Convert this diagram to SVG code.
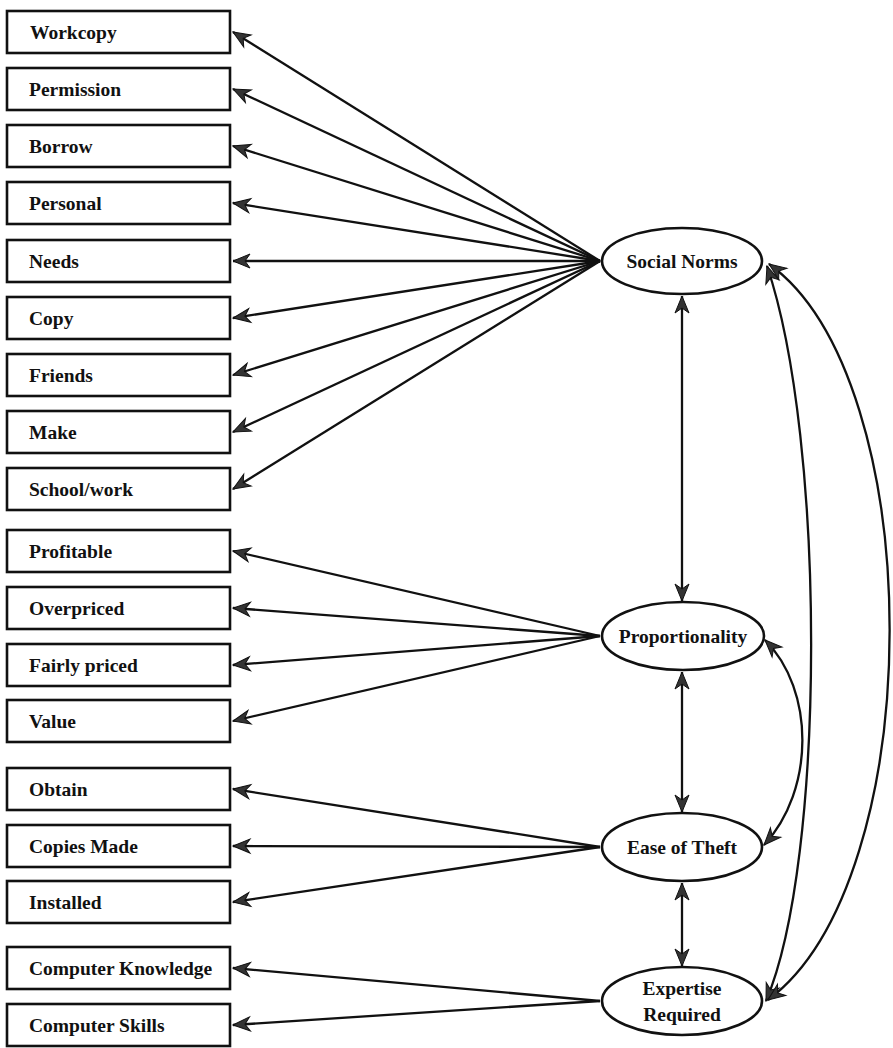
<svg xmlns="http://www.w3.org/2000/svg" width="893" height="1048" viewBox="0 0 893 1048">
<defs>
<style>
.box{fill:#fff;stroke:#111;stroke-width:2.6}
.ell{fill:#fff;stroke:#111;stroke-width:2.6}
.t{font-family:"Liberation Serif","Times New Roman",serif;font-weight:bold;font-size:19.5px;fill:#111}
.tc{text-anchor:middle}
.c{fill:none;stroke:#111;stroke-width:2.3}
.ar{marker-start:url(#ah)}
.bi{marker-start:url(#ah);marker-end:url(#ah)}
</style>
<marker id="ah" markerUnits="userSpaceOnUse" markerWidth="22" markerHeight="18" viewBox="-18 -9 20 18" refX="0" refY="0" orient="auto-start-reverse">
<path d="M0,0 L-17,-7 L-12,0 L-17,7 Z" fill="#333" stroke="#111" stroke-width="1"/>
</marker>
</defs>
<rect x="0" y="0" width="893" height="1048" fill="#fff"/>
<g id="connectors">
<line class="c ar" x1="233" y1="32" x2="600" y2="261"/>
<line class="c ar" x1="233" y1="89" x2="600" y2="261"/>
<line class="c ar" x1="233" y1="146" x2="600" y2="261"/>
<line class="c ar" x1="233" y1="203" x2="600" y2="261"/>
<line class="c ar" x1="233" y1="261" x2="600" y2="261"/>
<line class="c ar" x1="233" y1="318" x2="600" y2="261"/>
<line class="c ar" x1="233" y1="375" x2="600" y2="261"/>
<line class="c ar" x1="233" y1="432" x2="600" y2="261"/>
<line class="c ar" x1="233" y1="489" x2="600" y2="261"/>
<line class="c ar" x1="233" y1="551" x2="600" y2="636"/>
<line class="c ar" x1="233" y1="608" x2="600" y2="636"/>
<line class="c ar" x1="233" y1="665" x2="600" y2="636"/>
<line class="c ar" x1="233" y1="721" x2="600" y2="636"/>
<line class="c ar" x1="233" y1="789" x2="600" y2="847"/>
<line class="c ar" x1="233" y1="846" x2="600" y2="847"/>
<line class="c ar" x1="233" y1="902" x2="600" y2="847"/>
<line class="c ar" x1="233" y1="968" x2="600" y2="1001"/>
<line class="c ar" x1="233" y1="1025" x2="600" y2="1001"/>
<line class="c bi" x1="682" y1="296" x2="682" y2="601"/>
<line class="c bi" x1="682" y1="672" x2="682" y2="812"/>
<line class="c bi" x1="682" y1="883" x2="682" y2="966"/>
<path class="c bi" d="M767,266 C826,440 826,860 766,1001"/>
<path class="c bi" d="M769,264 C930,380 930,880 768,1000"/>
<path class="c bi" d="M765,640 C815,690 815,790 764,845"/>
</g>
<g id="n-workcopy"><rect class="box" x="7" y="11" width="223" height="42"/><text class="t" x="30" y="39">Workcopy</text></g>
<g id="n-permission"><rect class="box" x="7" y="68" width="223" height="42"/><text class="t" x="29" y="96">Permission</text></g>
<g id="n-borrow"><rect class="box" x="7" y="125" width="223" height="42"/><text class="t" x="29" y="153">Borrow</text></g>
<g id="n-personal"><rect class="box" x="7" y="182" width="223" height="42"/><text class="t" x="29" y="210">Personal</text></g>
<g id="n-needs"><rect class="box" x="7" y="240" width="223" height="42"/><text class="t" x="29" y="268">Needs</text></g>
<g id="n-copy"><rect class="box" x="7" y="297" width="223" height="42"/><text class="t" x="29" y="325">Copy</text></g>
<g id="n-friends"><rect class="box" x="7" y="354" width="223" height="42"/><text class="t" x="29" y="382">Friends</text></g>
<g id="n-make"><rect class="box" x="7" y="411" width="223" height="42"/><text class="t" x="29" y="439">Make</text></g>
<g id="n-schoolwork"><rect class="box" x="7" y="468" width="223" height="42"/><text class="t" x="29" y="496">School/work</text></g>
<g id="n-profitable"><rect class="box" x="7" y="530" width="223" height="42"/><text class="t" x="29" y="558">Profitable</text></g>
<g id="n-overpriced"><rect class="box" x="7" y="587" width="223" height="42"/><text class="t" x="29" y="615">Overpriced</text></g>
<g id="n-fairlypriced"><rect class="box" x="7" y="644" width="223" height="42"/><text class="t" x="29" y="672">Fairly priced</text></g>
<g id="n-value"><rect class="box" x="7" y="700" width="223" height="42"/><text class="t" x="29" y="728">Value</text></g>
<g id="n-obtain"><rect class="box" x="7" y="768" width="223" height="42"/><text class="t" x="29" y="796">Obtain</text></g>
<g id="n-copiesmade"><rect class="box" x="7" y="825" width="223" height="42"/><text class="t" x="29" y="853">Copies Made</text></g>
<g id="n-installed"><rect class="box" x="7" y="881" width="223" height="42"/><text class="t" x="29" y="909">Installed</text></g>
<g id="n-compknowledge"><rect class="box" x="7" y="947" width="223" height="42"/><text class="t" x="29" y="975">Computer Knowledge</text></g>
<g id="n-compskills"><rect class="box" x="7" y="1004" width="223" height="42"/><text class="t" x="29" y="1032">Computer Skills</text></g>
<g id="n-socialnorms"><ellipse class="ell" cx="682" cy="261" rx="80" ry="33"/><text class="t tc" x="682" y="268">Social Norms</text></g>
<g id="n-proportionality"><ellipse class="ell" cx="683" cy="636" rx="81" ry="34"/><text class="t tc" x="683" y="643">Proportionality</text></g>
<g id="n-easeoftheft"><ellipse class="ell" cx="682" cy="847" rx="80" ry="34"/><text class="t tc" x="682" y="854">Ease of Theft</text></g>
<g id="n-expertise"><ellipse class="ell" cx="682" cy="1001" rx="80" ry="34"/><text class="t tc" x="682" y="995">Expertise</text><text class="t tc" x="682" y="1021">Required</text></g>
</svg>
